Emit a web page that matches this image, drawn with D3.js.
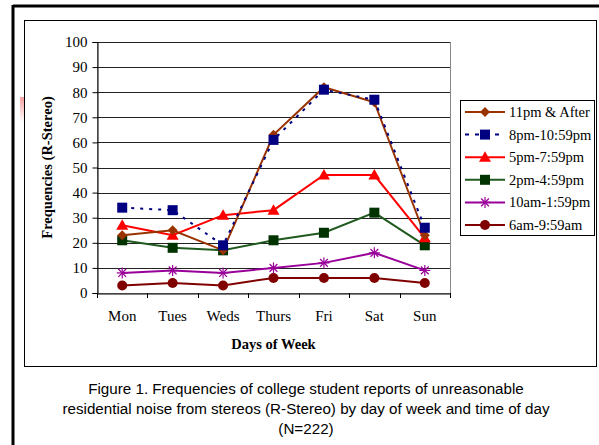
<!DOCTYPE html>
<html><head><meta charset="utf-8">
<script src="https://cdn.jsdelivr.net/npm/d3@7"></script>
<style>body{margin:0;background:#fff}svg{display:block}</style>
</head><body>
<svg id="c" width="599" height="445"></svg>
<script>
const days = ["Mon","Tues","Weds","Thurs","Fri","Sat","Sun"];
const yTicks = [0,10,20,30,40,50,60,70,80,90,100];
const seriesNames = ["11pm & After","8pm-10:59pm","5pm-7:59pm","2pm-4:59pm","10am-1:59pm","6am-9:59am"];
const s11pm = [23,25,17,63,82,76,23];
const s8pm  = [34,33,19,61,81,77,26];
const s5pm  = [27,23,31,33,47,47,22];
const s2pm  = [21,18,17,21,24,32,19];
const s10am = [8,9,8,10,12,16,9];
const s6am  = [3,4,3,6,6,6,4];
const seriesValues = [s11pm,s8pm,s5pm,s2pm,s10am,s6am];
const captionLines = ["Figure 1. Frequencies of college student reports of unreasonable",
  "residential noise from stereos (R-Stereo) by day of week and time of day","(N=222)"];

const styles = [
  {color:"#993300", mcolor:"#993300", marker:"diamond", dash:null},
  {color:"#000080", mcolor:"#000080", marker:"square", dash:"3,6"},
  {color:"#ff0000", mcolor:"#ff0000", marker:"triangle", dash:null},
  {color:"#1f5a1f", mcolor:"#003300", marker:"square", dash:null},
  {color:"#990099", mcolor:"#990099", marker:"star", dash:null},
  {color:"#800000", mcolor:"#800000", marker:"circle", dash:null}
];

const svg = d3.select("#c");
const serif = "'Liberation Serif','Times New Roman',serif";

// frames
svg.append("line").attr("x1",13).attr("x2",599).attr("y1",6).attr("y2",6).attr("stroke","#000").attr("stroke-width",3);
svg.append("line").attr("x1",13).attr("x2",13).attr("y1",5).attr("y2",445).attr("stroke","#000").attr("stroke-width",3);
svg.append("rect").attr("x",24.5).attr("y",20.5).attr("width",572).attr("height",346).attr("fill","none").attr("stroke","#000").attr("stroke-width",1);
// faint pink artifact
const grad = svg.append("defs").append("linearGradient").attr("id","pk").attr("x1",0).attr("x2",0).attr("y1",0).attr("y2",1);
grad.append("stop").attr("offset","0").attr("stop-color","#f7a0a0");
grad.append("stop").attr("offset","1").attr("stop-color","#fff");
svg.append("rect").attr("x",20).attr("y",97).attr("width",4).attr("height",25).attr("fill","url(#pk)");

const L=97, R=450, T=42, B=293;
const x = d3.scaleBand().domain(days).range([L,R]);
const y = d3.scaleLinear().domain([0,100]).range([B,T]);

// plot border
svg.append("rect").attr("x",L+0.5).attr("y",T+0.5).attr("width",R-L).attr("height",B-T).attr("fill","none").attr("stroke","#888");
// gridlines
svg.append("g").selectAll("line").data(yTicks.filter(d=>d>0)).join("line")
  .attr("x1",L).attr("x2",R).attr("y1",d=>Math.round(y(d))+0.5).attr("y2",d=>Math.round(y(d))+0.5)
  .attr("stroke","#222").attr("stroke-width",1);

// y axis
const ya = svg.append("g").attr("transform",`translate(${L+0.5},0)`)
  .call(d3.axisLeft(y).tickValues(yTicks).tickSize(5).tickPadding(5));
ya.select(".domain").attr("stroke","#000");
ya.selectAll("text").attr("font-family",serif).attr("font-size",15).attr("fill","#000");
ya.selectAll("line").attr("stroke","#000");

// x axis
const xa = svg.append("g").attr("transform",`translate(0,${B+0.5})`)
  .call(d3.axisBottom(x).tickSize(0).tickPadding(17));
xa.select(".domain").attr("stroke","#000");
xa.selectAll("text").attr("font-family",serif).attr("font-size",15).attr("fill","#000");
svg.append("g").selectAll("line").data(d3.range(days.length+1)).join("line")
  .attr("x1",i=>Math.round(L+i*x.bandwidth())+0.5).attr("x2",i=>Math.round(L+i*x.bandwidth())+0.5)
  .attr("y1",B).attr("y2",B+5).attr("stroke","#000");

// axis titles
svg.append("text").attr("x",(L+R)/2).attr("y",349).attr("text-anchor","middle")
  .attr("font-family",serif).attr("font-size",14.5).attr("font-weight","bold").text("Days of Week");
svg.append("text").attr("transform",`translate(52,${(T+B)/2}) rotate(-90)`).attr("text-anchor","middle")
  .attr("font-family",serif).attr("font-size",14.5).attr("font-weight","bold").text("Frequencies (R-Stereo)");

function drawMarker(g, type, cx, cy, st){
  if(type==="diamond"){
    g.append("path").attr("d",`M${cx},${cy-5}L${cx+5},${cy}L${cx},${cy+5}L${cx-5},${cy}Z`).attr("fill",st.mcolor);
  } else if(type==="square"){
    g.append("rect").attr("x",cx-5).attr("y",cy-5).attr("width",10).attr("height",10).attr("fill",st.mcolor);
  } else if(type==="triangle"){
    g.append("path").attr("d",`M${cx},${cy-6}L${cx+6},${cy+4.5}L${cx-6},${cy+4.5}Z`).attr("fill",st.mcolor);
  } else if(type==="circle"){
    g.append("circle").attr("cx",cx).attr("cy",cy).attr("r",5).attr("fill",st.mcolor);
  } else if(type==="star"){
    const r=5.5;
    [0,45,90,135].forEach(a=>{
      const rad=a*Math.PI/180;
      g.append("line").attr("x1",cx-r*Math.cos(rad)).attr("y1",cy-r*Math.sin(rad))
        .attr("x2",cx+r*Math.cos(rad)).attr("y2",cy+r*Math.sin(rad))
        .attr("stroke",st.mcolor).attr("stroke-width",1.2);
    });
  }
}

const cx = d => x(d)+x.bandwidth()/2;
const line = d3.line().x((v,i)=>cx(days[i])).y(v=>y(v));
const order = [5,4,3,2,0,1];
order.forEach(si=>{
  const st=styles[si], vals=seriesValues[si];
  const g=svg.append("g");
  g.append("path").attr("d",line(vals)).attr("fill","none").attr("stroke",st.color)
    .attr("stroke-width",2).attr("stroke-dasharray",st.dash);
  vals.forEach((v,i)=>drawMarker(g,st.marker,cx(days[i]),y(v),st));
});

// legend
const lg = svg.append("g");
lg.append("rect").attr("x",460.5).attr("y",100.5).attr("width",134).attr("height",135).attr("fill","#fff").attr("stroke","#000");
seriesNames.forEach((n,i)=>{
  const st=styles[i], yy=112+i*22.6;
  lg.append("line").attr("x1",465).attr("x2",505).attr("y1",yy).attr("y2",yy).attr("stroke",st.color).attr("stroke-width",2).attr("stroke-dasharray",st.dash?"4,6":null);
  drawMarker(lg,st.marker,485,yy,st);
  lg.append("text").attr("x",509).attr("y",yy+5).attr("font-family",serif).attr("font-size",14.5).text(n);
});

// caption
const sans="'Liberation Sans',Arial,sans-serif";
captionLines.forEach((t,i)=>{
  svg.append("text").attr("x",306).attr("y",394+i*20).attr("text-anchor","middle")
    .attr("font-family",sans).attr("font-size",15.2).attr("fill","#000").text(t);
});
</script>
</body></html>
